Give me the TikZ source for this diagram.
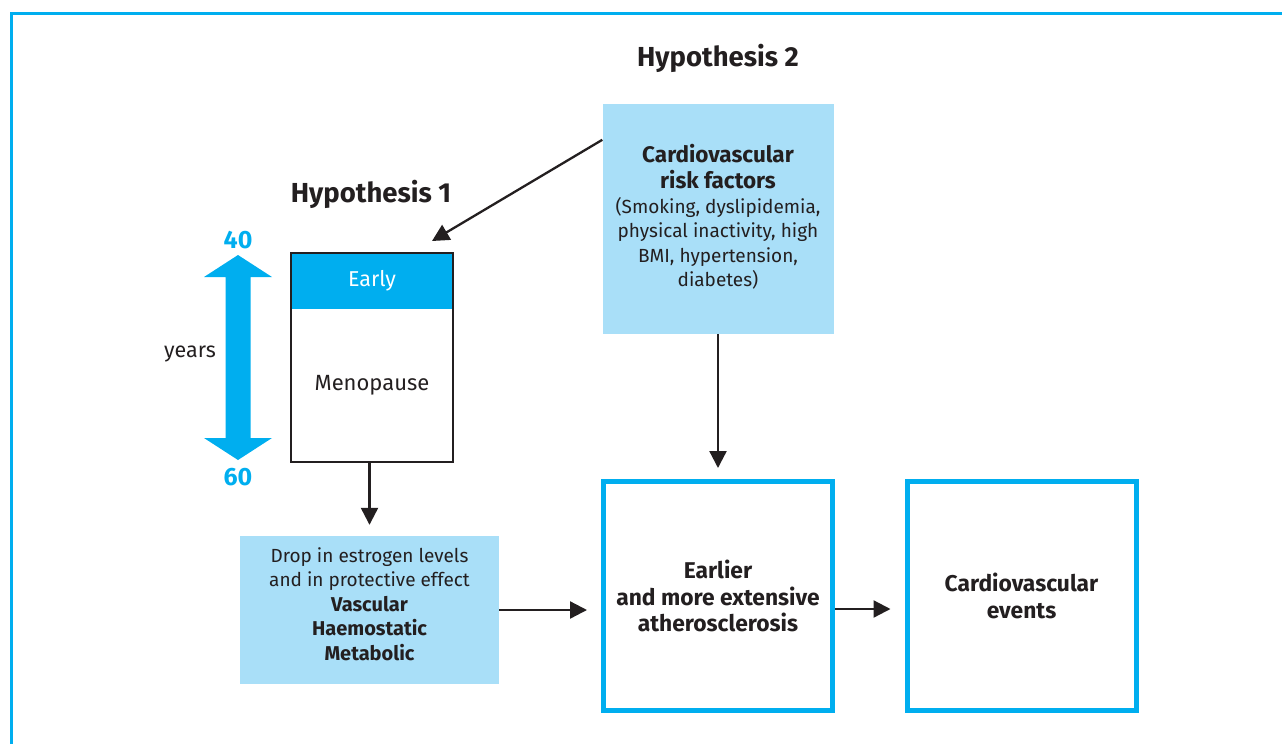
\documentclass[tikz,border=0pt]{standalone}
\usepackage{fontspec}
\setmainfont{Fira Sans}
\usetikzlibrary{arrows.meta}
\definecolor{cyanb}{HTML}{00AEEF}
\definecolor{pale}{HTML}{A9DFF8}
\definecolor{ink}{HTML}{231F20}
\newcommand{\bigbold}[1]{{\fontsize{22.5}{24.5}\selectfont\bfseries #1}}
\newcommand{\midbold}[1]{{\fontsize{20}{24.5}\selectfont\bfseries #1}}
\begin{document}
\begin{tikzpicture}[x=1pt,y=-1pt,
  txt/.style={text=ink,align=center,font=\fontsize{19}{24.5}\selectfont},
  menotxt/.style={text=ink,align=center,font=\fontsize{22}{26}\selectfont},
  palebox/.style={txt,fill=pale,draw=none,inner sep=0pt},
  bluebox/.style={txt,draw=cyanb,line width=5pt,fill=white,inner sep=0pt,minimum width=229pt,minimum height=229pt,font=\fontsize{22.8}{26.5}\selectfont\bfseries},
  title/.style={text=ink,font=\fontsize{27.5}{30}\selectfont\bfseries},
  agelabel/.style={text=cyanb,font=\fontsize{25}{28}\selectfont\bfseries},
  arr/.style={draw=ink,line width=2.3pt,-{Triangle[length=17pt,width=17pt]}}]
\useasboundingbox (0,0) rectangle (1282,744);
% frame
\draw[cyanb,line width=3pt] (11,744) -- (11,13) -- (1282,13);
% titles
\node[title] (h2) at (718,58) {Hypothesis 2};
\node[title] (h1) at (371,194) {Hypothesis 1};
% risk factors
\node[palebox,minimum width=231pt,minimum height=230pt] (risk) at (718,219) {};
\node[txt] (risktext) at (718,217)
  {\bigbold{Cardiovascular}\\[1.5pt]\bigbold{risk factors}\\(Smoking, dyslipidemia,\\physical inactivity, high\\BMI, hypertension,\\diabetes)};
% menopause box
\node[fill=cyanb,inner sep=0pt,minimum width=162pt,minimum height=56pt,text=white,font=\fontsize{21.5}{24}\selectfont] (early) at (372,281) {Early};
\node[draw=ink,line width=2pt,inner sep=0pt,minimum width=162pt,minimum height=209pt] (meno) at (372,357.5) {};
\node[menotxt] (menotext) at (372,385) {Menopause};
% age arrow
\fill[cyanb] (238,255) -- (272,277) -- (250.5,277) -- (250.5,438) -- (272,438) -- (238,460)
  -- (204,438) -- (225.5,438) -- (225.5,277) -- (204,277) -- cycle;
\node[agelabel] (a40) at (238,240) {40};
\node[agelabel] (a60) at (238,477) {60};
\node[menotxt,font=\fontsize{21.5}{26}\selectfont] (years) at (190,354) {years};
% drop box
\node[palebox,minimum width=259pt,minimum height=148pt] (drop) at (369.5,610) {};
\node[txt] (droptext) at (369.5,604) {Drop in estrogen levels\\and in protective effect\\\midbold{Vascular}\\\midbold{Haemostatic}\\\midbold{Metabolic}};
% outcome boxes
\node[bluebox] (ath) at (718,596) {Earlier\\and more extensive\\atherosclerosis};
\node[bluebox] (events) at (1021.5,596) {Cardiovascular\\events};
% connectors
\coordinate (h1tip) at (432,241);
\draw[arr] ([yshift=-36pt]risk.north west) -- (h1tip);
\draw[arr,shorten >=11pt] (meno.south -| drop.north) -- (drop.north);
\draw[arr,shorten >=11pt] (risk.south) -- (ath.north);
\draw[arr,shorten >=14pt] (drop.east) -- (drop.east -| ath.west);
\draw[arr,shorten >=14pt] ([yshift=-13pt]ath.east) -- ([yshift=-13pt]events.west);
\end{tikzpicture}
\end{document}
